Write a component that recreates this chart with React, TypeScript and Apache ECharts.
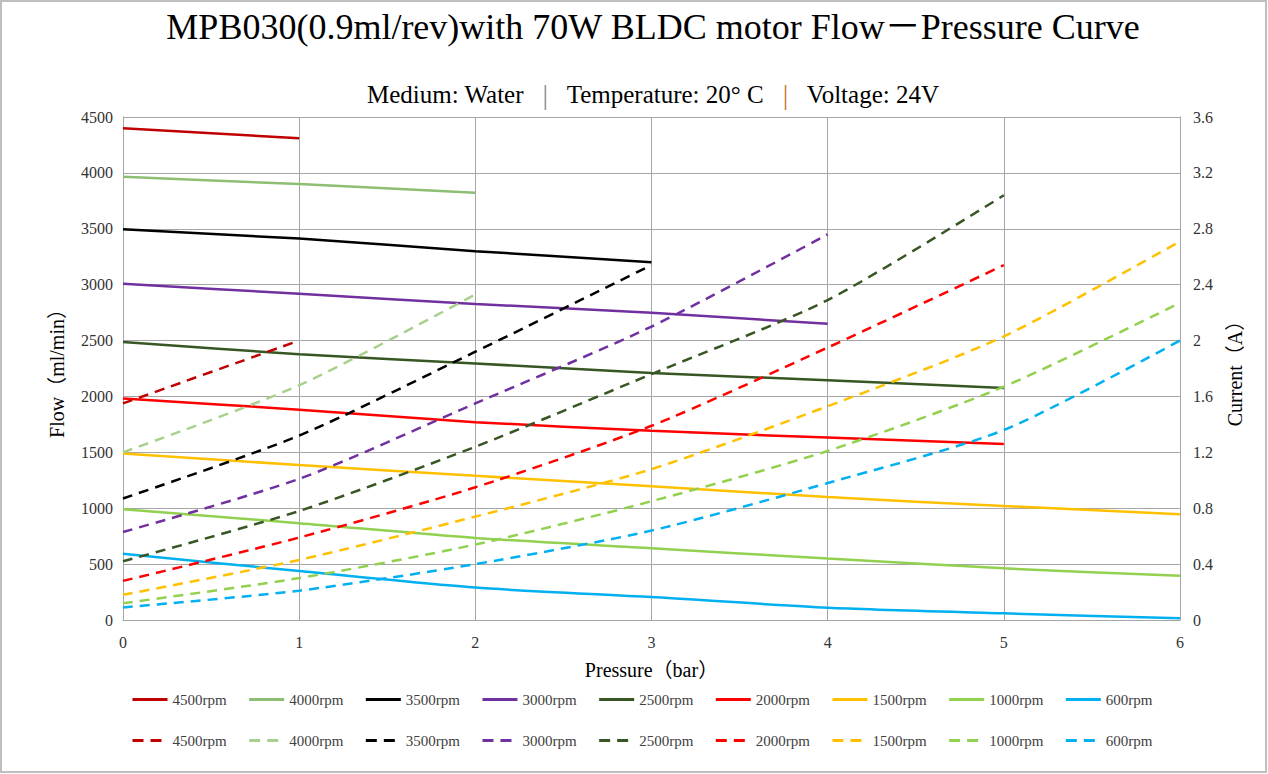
import React, { useEffect, useRef } from "react";
import * as echarts from "echarts";

const PRESSURE = [0, 1, 2, 3, 4, 5, 6];
const RPM_LABELS = ["4500rpm", "4000rpm", "3500rpm", "3000rpm", "2500rpm", "2000rpm", "1500rpm", "1000rpm", "600rpm"];

const FLOW_4500 = [4400, 4310];
const FLOW_4000 = [3965, 3900, 3822];
const FLOW_3500 = [3495, 3412, 3300, 3200];
const FLOW_3000 = [3008, 2918, 2828, 2748, 2650];
const FLOW_2500 = [2488, 2378, 2295, 2210, 2145, 2075];
const FLOW_2000 = [1982, 1882, 1770, 1692, 1632, 1575];
const FLOW_1500 = [1490, 1386, 1290, 1196, 1100, 1020, 946];
const FLOW_1000 = [990, 866, 734, 642, 550, 462, 395];
const FLOW_600 = [592, 438, 290, 205, 110, 60, 15];

const CURRENT_4500 = [1.55, 2.0];
const CURRENT_4000 = [1.2, 1.68, 2.33];
const CURRENT_3500 = [0.87, 1.32, 1.92, 2.54];
const CURRENT_3000 = [0.63, 1.01, 1.55, 2.1, 2.76];
const CURRENT_2500 = [0.42, 0.78, 1.24, 1.76, 2.29, 3.04];
const CURRENT_2000 = [0.28, 0.59, 0.95, 1.39, 1.95, 2.54];
const CURRENT_1500 = [0.18, 0.43, 0.74, 1.08, 1.53, 2.03, 2.71];
const CURRENT_1000 = [0.12, 0.3, 0.54, 0.85, 1.21, 1.67, 2.27];
const CURRENT_600 = [0.09, 0.21, 0.4, 0.64, 0.98, 1.36, 2.0];

const FLOWS = [FLOW_4500, FLOW_4000, FLOW_3500, FLOW_3000, FLOW_2500, FLOW_2000, FLOW_1500, FLOW_1000, FLOW_600];
const CURRENTS = [CURRENT_4500, CURRENT_4000, CURRENT_3500, CURRENT_3000, CURRENT_2500, CURRENT_2000, CURRENT_1500, CURRENT_1000, CURRENT_600];

const FLOW_COLORS = ["#C00000", "#8DBE73", "#000000", "#7030A0", "#375623", "#FF0000", "#FFC000", "#92D050", "#00B0F0"];
const CURRENT_COLORS = ["#C00000", "#A9D18E", "#000000", "#7030A0", "#375623", "#FF0000", "#FFC000", "#92D050", "#00B0F0"];

const X_TICKS = { min: 0, max: 6, interval: 1 };
const FLOW_TICKS = { min: 0, max: 4500, interval: 500 };
const CURRENT_TICKS = { min: 0, max: 3.6, interval: 0.4 };

const TITLE = "MPB030(0.9ml/rev)with 70W BLDC motor Flow－Pressure Curve";

const FONT = "'Liberation Serif', 'Times New Roman', 'Noto Sans CJK SC', serif";

const toPairs = (arr: number[]) => arr.map((v, i) => [PRESSURE[i], v]);

export default function App() {
  const ref = useRef<HTMLDivElement>(null);

  useEffect(() => {
    document.body.style.margin = "0";
    if (!ref.current) return;
    const chart = echarts.init(ref.current, undefined, { renderer: "svg" });

    const flowNames = RPM_LABELS.map((l) => l + "|flow");
    const currentNames = RPM_LABELS.map((l) => l + "|current");

    const series: any[] = [];
    FLOWS.forEach((arr, i) => {
      series.push({
        name: flowNames[i],
        type: "line",
        yAxisIndex: 0,
        data: toPairs(arr),
        symbol: "none",
        smooth: 0.25,
        lineStyle: { color: FLOW_COLORS[i], width: 2.5, type: "solid" },
        itemStyle: { color: FLOW_COLORS[i] },
      });
    });
    CURRENTS.forEach((arr, i) => {
      series.push({
        name: currentNames[i],
        type: "line",
        yAxisIndex: 1,
        data: toPairs(arr),
        symbol: "none",
        smooth: 0.25,
        lineStyle: { color: CURRENT_COLORS[i], width: 2.5, type: [10, 7] },
        itemStyle: { color: CURRENT_COLORS[i] },
      });
    });

    const legendBase = {
      left: 131,
      orient: "horizontal",
      itemWidth: 35,
      itemHeight: 14,
      itemGap: 21,
      padding: 0,
      selectedMode: false,
      itemStyle: { opacity: 0 },
      lineStyle: { width: 3 },
      formatter: (name: string) => name.split("|")[0],
      textStyle: { fontFamily: FONT, fontSize: 15, color: "#404040", width: 60 },
    };

    const option: any = {
      animation: false,
      backgroundColor: "#ffffff",
      grid: { left: 123, right: 88, top: 117, bottom: 154, containLabel: false },
      graphic: [
        {
          type: "rect",
          shape: { x: 1, y: 1, width: 1265, height: 771 },
          style: { fill: "none", stroke: "#BFBFBF", lineWidth: 2 },
          silent: true,
        },
        {
          type: "text",
          x: 653,
          y: 27,
          style: {
            text: TITLE,
            fontFamily: FONT,
            fontSize: 36,
            fill: "#000000",
            align: "center",
            verticalAlign: "middle",
          },
        },
        {
          type: "text",
          x: 653,
          y: 94,
          style: {
            text: "Medium: Water   {a||}   Temperature: 20° C   {b||}   Voltage: 24V",
            fontFamily: FONT,
            fontSize: 25,
            fill: "#000000",
            align: "center",
            verticalAlign: "middle",
            rich: {
              a: { fontFamily: FONT, fontSize: 28, fill: "#8C8C8C", color: "#8C8C8C" },
              b: { fontFamily: FONT, fontSize: 28, fill: "#C07A3A", color: "#C07A3A" },
            },
          },
        },
      ],
      legend: [
        { ...legendBase, top: 692, data: flowNames },
        {
          ...legendBase,
          top: 733,
          data: currentNames.map((n) => ({ name: n, lineStyle: { type: [11, 7], width: 3 } })),
        },
      ],
      xAxis: {
        type: "value",
        ...X_TICKS,
        name: "Pressure（bar）",
        nameLocation: "middle",
        nameGap: 40,
        nameTextStyle: { fontFamily: FONT, fontSize: 20, color: "#000000" },
        axisLine: { show: true, lineStyle: { color: "#A6A6A6", width: 1 } },
        axisTick: { show: false },
        axisLabel: { fontFamily: FONT, fontSize: 16, color: "#333333", margin: 14 },
        splitLine: { show: true, lineStyle: { color: "#A6A6A6", width: 1 } },
      },
      yAxis: [
        {
          type: "value",
          ...FLOW_TICKS,
          position: "left",
          name: "Flow（ml/min）",
          nameLocation: "middle",
          nameGap: 56,
          nameTextStyle: { fontFamily: FONT, fontSize: 20, color: "#000000" },
          axisLine: { show: true, lineStyle: { color: "#A6A6A6", width: 1 } },
          axisTick: { show: false },
          axisLabel: {
            fontFamily: FONT,
            fontSize: 16,
            color: "#333333",
            margin: 10,
            formatter: (v: number) => String(v),
          },
          splitLine: { show: true, lineStyle: { color: "#A6A6A6", width: 1 } },
        },
        {
          type: "value",
          ...CURRENT_TICKS,
          position: "right",
          name: "Current（A）",
          nameLocation: "middle",
          nameGap: 45,
          nameRotate: 90,
          nameTextStyle: { fontFamily: FONT, fontSize: 20, color: "#000000" },
          axisLine: { show: true, lineStyle: { color: "#A6A6A6", width: 1 } },
          axisTick: { show: false },
          axisLabel: {
            fontFamily: FONT,
            fontSize: 16,
            color: "#333333",
            margin: 13,
            formatter: (v: number) => String(Math.round(v * 10) / 10),
          },
          splitLine: { show: false },
        },
      ],
      series,
    };

    chart.setOption(option);
    return () => chart.dispose();
  }, []);

  return <div ref={ref} style={{ width: 1268, height: 774 }} />;
}
